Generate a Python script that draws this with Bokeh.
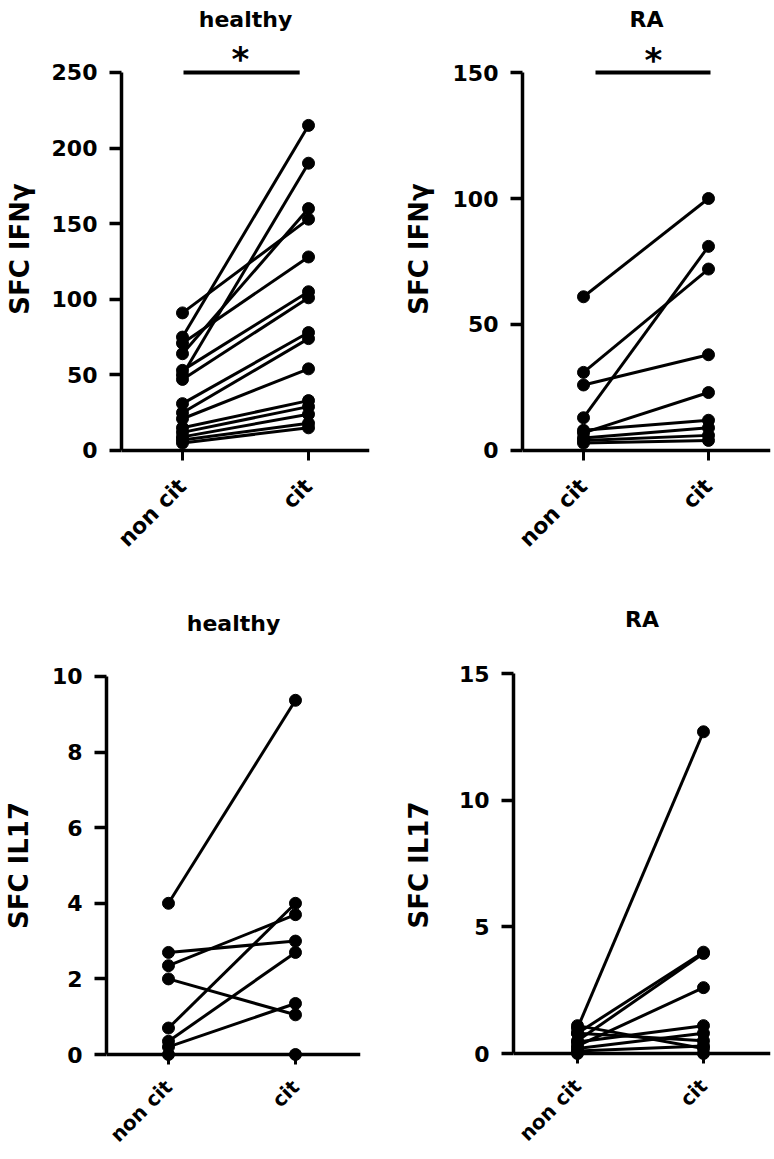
import math
from bokeh.plotting import figure
from bokeh.layouts import column, row
from bokeh.models import Range1d, FixedTicker, Span, LinearAxis, Title
from bokeh.core.properties import value
from bokeh.embed import file_html
from bokeh.resources import INLINE

# ---------------- data ----------------
categories = ["non cit", "cit"]

healthy_ifn_noncit = [91, 75, 71, 64, 50, 53, 47, 31, 25, 21, 15, 12, 9, 7, 5]
healthy_ifn_cit = [153, 215, 128, 160, 190, 105, 101, 78, 74, 54, 33, 29, 24, 18, 15]

ra_ifn_noncit = [61, 31, 26, 13, 7, 8, 5, 4, 3]
ra_ifn_cit = [100, 72, 38, 81, 23, 12, 9, 6, 4]

healthy_il17_noncit = [4.0, 2.7, 2.35, 2.0, 0.7, 0.35, 0.2, 0.0]
healthy_il17_cit = [9.37, 3.0, 3.7, 1.05, 4.0, 2.7, 1.35, 0.0]

ra_il17_noncit = [1.0, 0.8, 0.5, 0.3, 1.1, 0.8, 0.45, 0.2, 0.1, 0.0]
ra_il17_cit = [12.7, 4.0, 3.95, 2.6, 0.2, 0.5, 1.1, 0.8, 0.3, 0.0]

ticks_healthy_ifn = [0, 50, 100, 150, 200, 250]
ticks_ra_ifn = [0, 50, 100, 150]
ticks_healthy_il17 = [0, 2, 4, 6, 8, 10]
ticks_ra_il17 = [0, 5, 10, 15]

titles = ["healthy", "RA", "healthy", "RA"]
ylabels = ["SFC IFN\u03b3", "SFC IFN\u03b3", "SFC IL17", "SFC IL17"]
significance = ["*", "*", None, None]

FONT = "DejaVu Sans"
BLACK = "#000000"


def panel(noncit, cit, yticks, title, ylabel, sig, *, width, height,
          frame_w, frame_h, mbl, mbr, mbt, mbb, xr, yr, ylabel_standoff,
          title_gap, xlab_size, xlab_standoff, sig_bar=None, sig_xy=None):
    p = figure(width=width, height=height, frame_width=frame_w, frame_height=frame_h,
               x_range=Range1d(*xr), y_range=Range1d(*yr), title=None,
               output_backend="svg", toolbar_location=None,
               min_border_left=mbl, min_border_right=mbr, min_border_top=mbt,
               min_border_bottom=mbb)
    p.outline_line_color = None
    p.grid.visible = False
    p.background_fill_color = "white"
    p.border_fill_color = "white"

    xa = p.below[0]
    ya = p.left[0]

    xpos = {c: i for i, c in enumerate(categories)}
    mid = sum(xpos.values()) / len(xpos)

    # invisible spacer (one hidden tick) between the title and the plotting area
    spacer = LinearAxis(ticker=FixedTicker(ticks=[mid]), axis_line_color=None,
                        major_tick_line_color=None, minor_tick_line_color=None,
                        major_tick_out=title_gap, major_tick_in=0,
                        minor_tick_out=0, minor_tick_in=0, major_label_standoff=0,
                        major_label_overrides={mid: ""}, major_label_text_font_size="1px",
                        major_label_text_alpha=0)
    p.add_layout(spacer, "above")
    p.add_layout(Title(text=title, align="center", text_font=FONT, text_font_style="bold",
                       text_font_size="22px", text_color=BLACK, standoff=0), "above")

    n = len(noncit)
    x0 = [xpos["non cit"]] * n
    x1 = [xpos["cit"]] * n

    p.segment(x0=x0, y0=noncit, x1=x1, y1=cit, line_color=BLACK, line_width=3)
    p.scatter(x=x0, y=noncit, size=12, marker="circle", fill_color=BLACK, line_color=BLACK)
    p.scatter(x=x1, y=cit, size=12, marker="circle", fill_color=BLACK, line_color=BLACK)

    # x axis baseline at y = 0
    p.add_layout(Span(location=yticks[0], dimension="width", line_color=BLACK, line_width=3.5))

    xa.ticker = FixedTicker(ticks=list(xpos.values()))
    xa.major_label_overrides = {v: k for k, v in xpos.items()}
    xa.major_label_orientation = math.pi / 4
    xa.axis_line_color = None
    xa.major_tick_line_width = 3
    xa.major_tick_line_color = BLACK
    xa.major_tick_out = 3
    xa.major_tick_in = 7
    xa.minor_tick_line_color = None
    xa.major_label_standoff = xlab_standoff
    xa.major_label_text_font = FONT
    xa.major_label_text_font_style = "bold"
    xa.major_label_text_font_size = xlab_size
    xa.major_label_text_color = BLACK

    # y axis
    ya.ticker = FixedTicker(ticks=yticks)
    ya.bounds = (yticks[0], yticks[-1])
    ya.axis_line_width = 3.5
    ya.axis_line_color = BLACK
    ya.major_tick_line_width = 3.5
    ya.major_tick_out = 12
    ya.major_tick_in = 0
    ya.minor_tick_line_color = None
    ya.major_label_standoff = 12
    ya.major_label_text_font = FONT
    ya.major_label_text_font_style = "bold"
    ya.major_label_text_font_size = "22px"
    ya.major_label_text_color = BLACK
    ya.axis_label = ylabel
    ya.axis_label_text_font = FONT
    ya.axis_label_text_font_style = "bold"
    ya.axis_label_text_font_size = "26px"
    ya.axis_label_text_color = BLACK
    ya.axis_label_standoff = ylabel_standoff

    if sig is not None:
        p.segment(x0=[sig_bar[0]], y0=[sig_bar[2]], x1=[sig_bar[1]], y1=[sig_bar[2]],
                  line_color=BLACK, line_width=4)
        p.text(x=[sig_xy[0]], y=[sig_xy[1]], text=[sig], text_font=value(FONT),
               text_font_style="bold", text_font_size="34px", text_align="center",
               text_baseline="alphabetic", text_color=BLACK)
    return p


p1 = panel(healthy_ifn_noncit, healthy_ifn_cit, ticks_healthy_ifn, titles[0], ylabels[0], significance[0],
           width=387, height=598, frame_w=248, frame_h=417, mbl=121, mbr=18, mbt=40, mbb=141,
           xr=(-0.484, 1.484), yr=(-4.63, 271.16), ylabel_standoff=14, title_gap=9,
           xlab_size="22px", xlab_standoff=22,
           sig_bar=(0.008, 0.93, 250), sig_xy=(0.46, 258.6))

p2 = panel(ra_ifn_noncit, ra_ifn_cit, ticks_ra_ifn, titles[1], ylabels[1], significance[1],
           width=387, height=598, frame_w=248, frame_h=417, mbl=135, mbr=4, mbt=40, mbb=141,
           xr=(-0.488, 1.496), yr=(-2.78, 162.70), ylabel_standoff=16, title_gap=9,
           xlab_size="22px", xlab_standoff=22,
           sig_bar=(0.096, 1.016, 150), sig_xy=(0.56, 155.0))

p3 = panel(healthy_il17_noncit, healthy_il17_cit, ticks_healthy_il17, titles[2], ylabels[2], significance[2],
           width=387, height=561, frame_w=254, frame_h=392, mbl=106, mbr=27, mbt=71, mbb=98,
           xr=(-0.488, 1.512), yr=(-0.185, 10.185), ylabel_standoff=15, title_gap=34,
           xlab_size="20px", xlab_standoff=19)

p4 = panel(ra_il17_noncit, ra_il17_cit, ticks_ra_il17, titles[3], ylabels[3], significance[3],
           width=387, height=561, frame_w=257, frame_h=391, mbl=126, mbr=4, mbt=70, mbb=100,
           xr=(-0.508, 1.532), yr=(-0.276, 15.158), ylabel_standoff=22, title_gap=38,
           xlab_size="20px", xlab_standoff=19)

layout = column(row(p1, p2), row(p3, p4))

with open("out.html", "w") as f:
    f.write(file_html(layout, INLINE))
